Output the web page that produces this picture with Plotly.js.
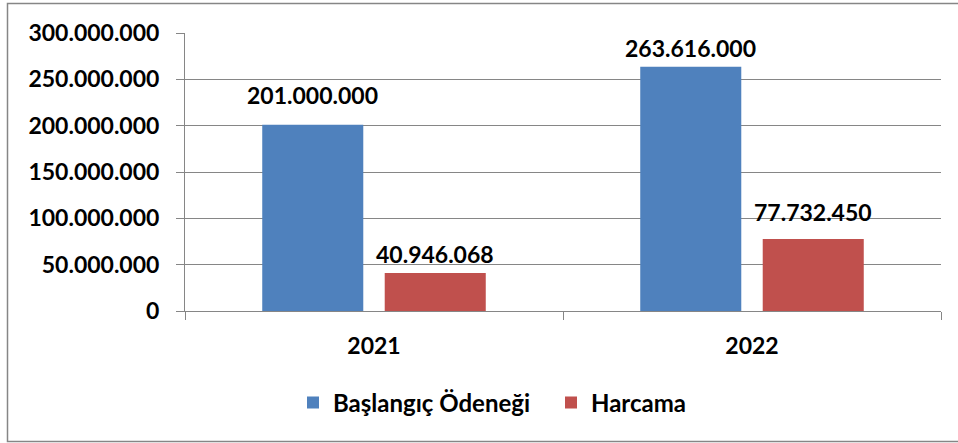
<!DOCTYPE html>
<html>
<head>
<meta charset="utf-8">
<script src="https://cdn.plot.ly/plotly-3.0.1.min.js"></script>
<style>html,body{margin:0;padding:0;background:#fff;}#chart{width:958px;height:443px;}</style>
</head>
<body>
<div id="chart"></div>
<script>
const categories = ["2021", "2022"];
const seriesNames = ["Başlangıç Ödeneği", "Harcama"];
const baslangic = [201000000, 263616000];
const harcama = [40946068, 77732450];
const yTicks = [0, 50000000, 100000000, 150000000, 200000000, 250000000, 300000000];

// label gap (px) above each bar, per series / category
const gapBaslangic = [20, 9];
const gapHarcama = [9, 17];

const FONT = "Lato, 'Open Sans', sans-serif";
const WEIGHT = "bold";
const FS = 23;
const L = 185, R = 17, T = 33, B = 132, W = 958, H = 443;
const pw = W - L - R, ph = H - T - B;
const slot = (pw / categories.length) * (1 - 0.352) / 2;

function fmt(v) {
  return Math.round(v).toString().replace(/\B(?=(\d{3})+(?!\d))/g, ".");
}

const traces = [
  {type: "bar", name: seriesNames[0], x: categories, y: baslangic,
   marker: {color: "#4F81BD"}, hoverinfo: "none"},
  {type: "bar", name: seriesNames[1], x: categories, y: harcama,
   marker: {color: "#C0504D"}, hoverinfo: "none"}
];

const annotations = [];
categories.forEach((c, i) => {
  [[baslangic, gapBaslangic, -1], [harcama, gapHarcama, 1]].forEach(([vals, gaps, side]) => {
    annotations.push({
      x: i, y: vals[i], xref: "x", yref: "y", text: fmt(vals[i]), showarrow: false,
      xanchor: "center", yanchor: "middle", xshift: side * slot / 2, yshift: gaps[i] + 10,
      font: {family: FONT, size: FS, color: "#000", weight: WEIGHT}
    });
  });
});

const layout = {
  width: W, height: H,
  margin: {l: L, r: R, t: T, b: B, pad: 0},
  separators: ",.",
  barmode: "group", bargap: 0.352, bargroupgap: 0.175,
  paper_bgcolor: "#fff", plot_bgcolor: "#fff",
  font: {family: FONT, size: FS, color: "#000", weight: WEIGHT},
  showlegend: true,
  legend: {orientation: "h", x: (307 - 14 - L) / pw, xanchor: "left", y: -92 / ph, yanchor: "middle",
           entrywidth: 213, entrywidthmode: "pixels",
           font: {family: FONT, size: 24, color: "#000", weight: WEIGHT},
           traceorder: "normal"},
  xaxis: {type: "category", range: [-0.5, 1.5], showgrid: false, showline: true, linecolor: "#868686", linewidth: 1,
          ticks: "outside", tickson: "boundaries", ticklen: 8, tickcolor: "#868686",
          ticklabelstandoff: 14, tickangle: 0,
          tickfont: {family: FONT, size: FS, color: "#000", weight: WEIGHT}, zeroline: false, fixedrange: true},
  yaxis: {range: [0, 300000000], tickvals: yTicks, tickformat: ",d", showgrid: true,
          gridcolor: "#868686", gridwidth: 1, showline: true, linecolor: "#868686", linewidth: 1,
          ticks: "outside", ticklen: 8, tickcolor: "#868686", zeroline: false,
          ticklabelstandoff: 12,
          tickfont: {family: FONT, size: FS, color: "#000", weight: WEIGHT}, fixedrange: true},
  annotations: annotations,
  shapes: [{type: "rect", xref: "paper", yref: "paper",
            x0: (7.5 - L) / pw, x1: 1.2, y0: (T + ph - 441.5) / ph, y1: (T + ph - 3.5) / ph,
            line: {color: "#868686", width: 1.5}, fillcolor: "rgba(0,0,0,0)", layer: "below"}]
};

Plotly.newPlot("chart", traces, layout, {displayModeBar: false, staticPlot: true});
</script>
</body>
</html>
